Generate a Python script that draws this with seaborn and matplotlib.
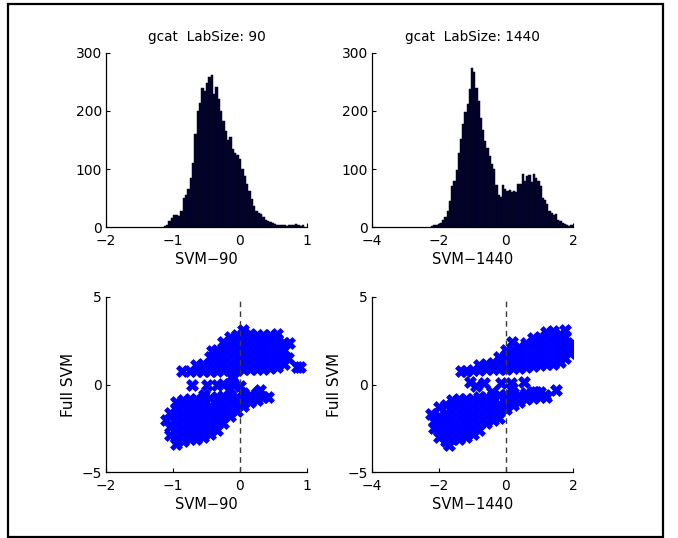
import numpy as np
import pandas as pd
import matplotlib
matplotlib.use("Agg")
import matplotlib.pyplot as plt
from matplotlib.patches import Rectangle
import seaborn as sns

# ---------------- data ----------------
titles = ["gcat  LabSize: 90", "gcat  LabSize: 1440"]
xlabels = ["SVM\u221290", "SVM\u22121440"]
ylabel_bottom = "Full SVM"

# histogram 1 (SVM-90): bin centres and counts
h90_centers = [-1.12, -1.085, -1.05, -1.015, -0.98, -0.945, -0.91, -0.875, -0.84, -0.805,
               -0.77, -0.735, -0.70, -0.665, -0.63, -0.595, -0.56, -0.525, -0.49, -0.455,
               -0.42, -0.385, -0.35, -0.315, -0.28, -0.245, -0.21, -0.175, -0.14, -0.105,
               -0.07, -0.035, 0.0, 0.035, 0.07, 0.105, 0.14, 0.175, 0.21, 0.245,
               0.28, 0.315, 0.35, 0.385, 0.42, 0.455, 0.49, 0.525, 0.56, 0.595,
               0.63, 0.665, 0.70, 0.735, 0.77, 0.805, 0.84, 0.875, 0.91, 0.945]
h90_counts = [2, 4, 10, 15, 20, 20, 19, 28, 50, 55,
              65, 85, 110, 160, 200, 213, 240, 235, 248, 258,
              262, 230, 242, 220, 200, 182, 165, 150, 155, 135,
              128, 125, 118, 100, 88, 75, 62, 48, 36, 28,
              25, 22, 18, 12, 10, 9, 7, 5, 4, 4,
              3, 3, 2, 3, 3, 4, 6, 3, 2, 3]

# histogram 2 (SVM-1440)
h1440_centers = [-2.2, -2.134, -2.068, -2.002, -1.936, -1.87, -1.804, -1.738, -1.672, -1.606,
                 -1.54, -1.474, -1.408, -1.342, -1.276, -1.21, -1.144, -1.078, -1.012, -0.946,
                 -0.88, -0.814, -0.748, -0.682, -0.616, -0.55, -0.484, -0.418, -0.352, -0.286,
                 -0.22, -0.154, -0.088, -0.022, 0.044, 0.11, 0.176, 0.242, 0.308, 0.374,
                 0.44, 0.506, 0.572, 0.638, 0.704, 0.77, 0.836, 0.902, 0.968, 1.034,
                 1.10, 1.166, 1.232, 1.298, 1.364, 1.43, 1.496, 1.562, 1.628, 1.694,
                 1.76, 1.826, 1.892, 1.958]
h1440_counts = [2, 3, 4, 5, 7, 12, 18, 28, 45, 70,
                80, 98, 128, 152, 178, 198, 212, 238, 275, 268,
                240, 218, 188, 168, 148, 136, 122, 108, 100, 72,
                56, 52, 72, 65, 62, 63, 60, 62, 60, 74,
                75, 92, 80, 88, 90, 78, 92, 85, 80, 70,
                50, 46, 40, 28, 25, 20, 22, 12, 10, 7,
                5, 3, 2, 3]

# scatter 1: SVM-90 vs Full SVM
sc90_x = [
    # lower cluster
    -1.10, -1.05, -1.05, -1.05,
    -0.95, -0.95, -0.95, -0.95, -0.95, -0.95, -0.95,
    -0.85, -0.85, -0.85, -0.85, -0.85, -0.85, -0.85,
    -0.75, -0.75, -0.75, -0.75, -0.75, -0.75, -0.75,
    -0.65, -0.65, -0.65, -0.65, -0.65, -0.65, -0.65,
    -0.55, -0.55, -0.55, -0.55, -0.55, -0.55, -0.55,
    -0.45, -0.45, -0.45, -0.45, -0.45, -0.45,
    -0.35, -0.35, -0.35, -0.35, -0.35, -0.35,
    -0.25, -0.25, -0.25, -0.25, -0.25,
    -0.15, -0.15, -0.15, -0.15,
    -0.05, -0.05, -0.05,
    0.05, 0.05, 0.05,
    0.15, 0.15,
    0.25, 0.25, 0.30, 0.35, 0.42,
    # between clusters
    -0.72, -0.50, -0.35, -0.25, -0.12, 0.00, -0.10, -0.54, -0.17,
    # upper cluster
    -0.87, -0.75, -0.65, -0.65, -0.55, -0.55,
    -0.45, -0.45, -0.45, -0.42,
    -0.35, -0.35, -0.35, -0.35,
    -0.25, -0.25, -0.25, -0.25, -0.25,
    -0.15, -0.15, -0.15, -0.15, -0.15, -0.15,
    -0.05, -0.05, -0.05, -0.05, -0.05, -0.05,
    0.05, 0.05, 0.05, 0.05, 0.05, 0.05, 0.05,
    0.15, 0.15, 0.15, 0.15, 0.15, 0.15,
    0.25, 0.25, 0.25, 0.25, 0.25, 0.25,
    0.35, 0.35, 0.35, 0.35, 0.35, 0.35,
    0.45, 0.45, 0.45, 0.45, 0.45, 0.45,
    0.55, 0.55, 0.55, 0.55, 0.55, 0.55,
    0.65, 0.65, 0.65, 0.65,
    0.72, 0.73, 0.85, 0.90,
]
sc90_y = [
    -2.0, -2.9, -2.4, -1.6,
    -3.4, -3.0, -2.6, -2.2, -1.8, -1.4, -1.0,
    -3.2, -2.8, -2.4, -2.0, -1.6, -1.2, -0.9,
    -3.1, -2.7, -2.3, -1.9, -1.5, -1.1, -0.85,
    -3.1, -2.7, -2.3, -1.9, -1.5, -1.1, -0.8,
    -3.0, -2.6, -2.2, -1.8, -1.4, -1.0, -0.75,
    -2.8, -2.4, -2.0, -1.6, -1.2, -0.75,
    -2.6, -2.2, -1.8, -1.4, -1.0, -0.7,
    -2.2, -1.8, -1.4, -1.0, -0.65,
    -1.8, -1.4, -1.0, -0.6,
    -1.5, -1.1, -0.7,
    -1.2, -0.8, -0.5,
    -1.0, -0.6,
    -0.9, -0.5, -0.3, -0.7, -0.7,
    -0.05, 0.0, 0.0, 0.05, 0.15, -0.1, 0.35, -0.6, -0.3,
    0.75, 0.75, 0.75, 1.1, 0.8, 1.2,
    0.8, 1.2, 1.6, 1.9,
    0.8, 1.2, 1.6, 2.0,
    0.85, 1.25, 1.65, 2.05, 2.45,
    0.85, 1.25, 1.65, 2.05, 2.45, 2.7,
    0.85, 1.25, 1.65, 2.05, 2.45, 2.85,
    0.9, 1.3, 1.7, 2.1, 2.5, 2.9, 3.1,
    0.9, 1.3, 1.7, 2.1, 2.5, 2.9,
    0.9, 1.3, 1.7, 2.1, 2.5, 2.85,
    0.9, 1.3, 1.7, 2.1, 2.5, 2.85,
    0.95, 1.35, 1.75, 2.15, 2.55, 2.85,
    1.0, 1.4, 1.8, 2.2, 2.6, 2.9,
    1.2, 1.6, 2.0, 2.4,
    1.5, 2.4, 1.0, 1.0,
]

# scatter 2: SVM-1440 vs Full SVM
sc1440_x = [
    # lower cluster
    -2.25, -2.15, -2.15,
    -2.0, -2.0, -2.0, -2.0, -2.0,
    -1.8, -1.8, -1.8, -1.8, -1.8, -1.8, -1.7,
    -1.6, -1.6, -1.6, -1.6, -1.6, -1.6, -1.6,
    -1.4, -1.4, -1.4, -1.4, -1.4, -1.4, -1.4,
    -1.2, -1.2, -1.2, -1.2, -1.2, -1.2, -1.2,
    -1.0, -1.0, -1.0, -1.0, -1.0, -1.0,
    -0.8, -0.8, -0.8, -0.8, -0.8, -0.8,
    -0.6, -0.6, -0.6, -0.6, -0.6,
    -0.4, -0.4, -0.4, -0.4, -0.4,
    -0.2, -0.2, -0.2, -0.2,
    0.0, 0.0, 0.0,
    0.2, 0.2, 0.2,
    0.4, 0.4, 0.6, 0.6, 0.8, 0.8, 1.0, 1.0, 1.15,
    # between clusters
    -1.06, -0.90, -0.66, -0.16, 0.14, 0.19, 0.54, 0.89, 1.18, 1.48, -0.41,
    # upper cluster
    -1.35, -1.2, -1.0, -0.8, -0.8, -0.6, -0.6, -0.4, -0.4,
    -0.2, -0.2, -0.2,
    0.0, 0.0, 0.0, 0.0,
    0.2, 0.2, 0.2, 0.2, 0.19,
    0.4, 0.4, 0.4, 0.4,
    0.6, 0.6, 0.6, 0.6, 0.6,
    0.8, 0.8, 0.8, 0.8, 0.8,
    1.0, 1.0, 1.0, 1.0, 1.0,
    1.2, 1.2, 1.2, 1.2, 1.2, 1.2,
    1.4, 1.4, 1.4, 1.4, 1.4, 1.4,
    1.6, 1.6, 1.6, 1.6, 1.6,
    1.75, 1.75, 1.75, 1.75, 1.75,
    1.9, 1.9, 2.0,
]
sc1440_y = [
    -1.7, -2.1, -2.5,
    -3.0, -2.6, -2.2, -1.8, -1.3,
    -3.2, -2.8, -2.4, -2.0, -1.6, -1.15, -3.45,
    -3.1, -2.7, -2.3, -1.9, -1.5, -1.1, -0.9,
    -3.1, -2.7, -2.3, -1.9, -1.5, -1.1, -0.85,
    -3.0, -2.6, -2.2, -1.8, -1.4, -1.0, -0.8,
    -2.8, -2.4, -2.0, -1.6, -1.2, -0.8,
    -2.6, -2.2, -1.8, -1.4, -1.0, -0.7,
    -2.2, -1.8, -1.4, -1.0, -0.7,
    -2.0, -1.6, -1.2, -0.8, -0.6,
    -1.9, -1.5, -1.1, -0.6,
    -1.4, -1.0, -0.6,
    -1.15, -0.8, -0.5,
    -1.0, -0.6, -0.85, -0.5, -0.75, -0.45, -0.7, -0.45, -0.6,
    0.15, -0.1, 0.07, 0.07, 0.07, -0.2, 0.16, -0.4, -0.7, -0.3, -0.4,
    0.75, 0.8, 0.85, 0.85, 1.1, 0.9, 1.15, 0.9, 1.25,
    0.9, 1.3, 1.6,
    0.9, 1.3, 1.7, 2.0,
    0.95, 1.35, 1.75, 2.0, 2.45,
    0.95, 1.35, 1.75, 2.15,
    1.0, 1.4, 1.8, 2.2, 2.4,
    1.05, 1.45, 1.85, 2.25, 2.65,
    1.1, 1.5, 1.9, 2.3, 2.7,
    1.15, 1.55, 1.95, 2.35, 2.75, 3.0,
    1.2, 1.6, 2.0, 2.4, 2.8, 3.05,
    1.3, 1.7, 2.1, 2.5, 2.9,
    1.5, 1.9, 2.3, 2.7, 3.1,
    1.8, 2.2, 2.4,
]

hist_xlim = [(-2, 1), (-4, 2)]
hist_xticks = [[-2, -1, 0, 1], [-4, -2, 0, 2]]
hist_yticks = [0, 100, 200, 300]
sc_yticks = [-5, 0, 5]

# ---------------- style ----------------
sns.set_style("ticks")
plt.rcParams["font.family"] = ["DejaVu Sans"]
plt.rcParams["axes.unicode_minus"] = True
plt.rcParams["text.color"] = "black"
plt.rcParams["axes.labelcolor"] = "black"
plt.rcParams["xtick.color"] = "black"
plt.rcParams["ytick.color"] = "black"

W, H = 678, 538
fig = plt.figure(figsize=(W / 100, H / 100), dpi=100)
fig.patch.set_facecolor("white")

def px_axes(x0, y0, x1, y1):
    return fig.add_axes([x0 / W, 1 - y1 / H, (x1 - x0) / W, (y1 - y0) / H])

ax_h = [px_axes(106, 53, 307, 227), px_axes(372, 53, 573, 227)]
ax_s = [px_axes(106, 297, 307, 472), px_axes(372, 297, 573, 472)]

hist_data = [(h90_centers, h90_counts), (h1440_centers, h1440_counts)]
sc_data = [(sc90_x, sc90_y), (sc1440_x, sc1440_y)]

def style_axes(ax):
    for s in ["top", "right"]:
        ax.spines[s].set_visible(False)
    for s in ["left", "bottom"]:
        ax.spines[s].set_color("black")
        ax.spines[s].set_linewidth(0.9)
    ax.tick_params(direction="in", length=3, width=0.8, labelsize=10,
                   colors="black", labelcolor="black")
    ax.tick_params(axis="x", pad=5)
    ax.tick_params(axis="y", pad=3)
    ax.set_facecolor("white")

for i in range(2):
    ax = ax_h[i]
    c = np.asarray(hist_data[i][0], dtype=float)
    w = float(np.median(np.diff(c)))
    edges = [float(v) for v in (c - w / 2)] + [float(c[-1] + w / 2)]
    df = pd.DataFrame({"x": c, "n": hist_data[i][1]})
    sns.histplot(data=df, x="x", weights="n", bins=edges, ax=ax,
                 color="#00002a", edgecolor="#0a0a22", linewidth=0.35,
                 alpha=1.0)
    ax.set_xlim(*hist_xlim[i])
    ax.set_ylim(0, 300)
    ax.set_xticks(hist_xticks[i])
    ax.set_yticks(hist_yticks)
    ax.set_title(titles[i], fontsize=9.8, pad=9, color="black")
    ax.set_xlabel(xlabels[i], fontsize=10.5, labelpad=3, color="black")
    ax.set_ylabel("")
    style_axes(ax)

for i in range(2):
    ax = ax_s[i]
    df = pd.DataFrame({"x": sc_data[i][0], "y": sc_data[i][1]})
    sns.scatterplot(data=df, x="x", y="y", ax=ax, marker="X", color="#0000ff",
                    edgecolor="#0000ff", s=72, linewidth=0.6, zorder=3)
    ax.axvline(0, color="#3a3a3a", linestyle=(0, (4, 3)), linewidth=1.0, zorder=4)
    ax.set_xlim(*hist_xlim[i])
    ax.set_ylim(-5, 5)
    ax.set_xticks(hist_xticks[i])
    ax.set_yticks(sc_yticks)
    ax.set_xlabel(xlabels[i], fontsize=10.5, labelpad=3, color="black")
    ax.set_ylabel(ylabel_bottom, fontsize=11, labelpad=4, color="black")
    style_axes(ax)

# outer frame
fig.patches.append(Rectangle((8 / W, 1 - 537 / H), (663 - 8) / W, (537 - 4) / H,
                             transform=fig.transFigure, fill=False,
                             edgecolor="black", linewidth=1.6))

fig.savefig("out.png", dpi=100, facecolor="white")
